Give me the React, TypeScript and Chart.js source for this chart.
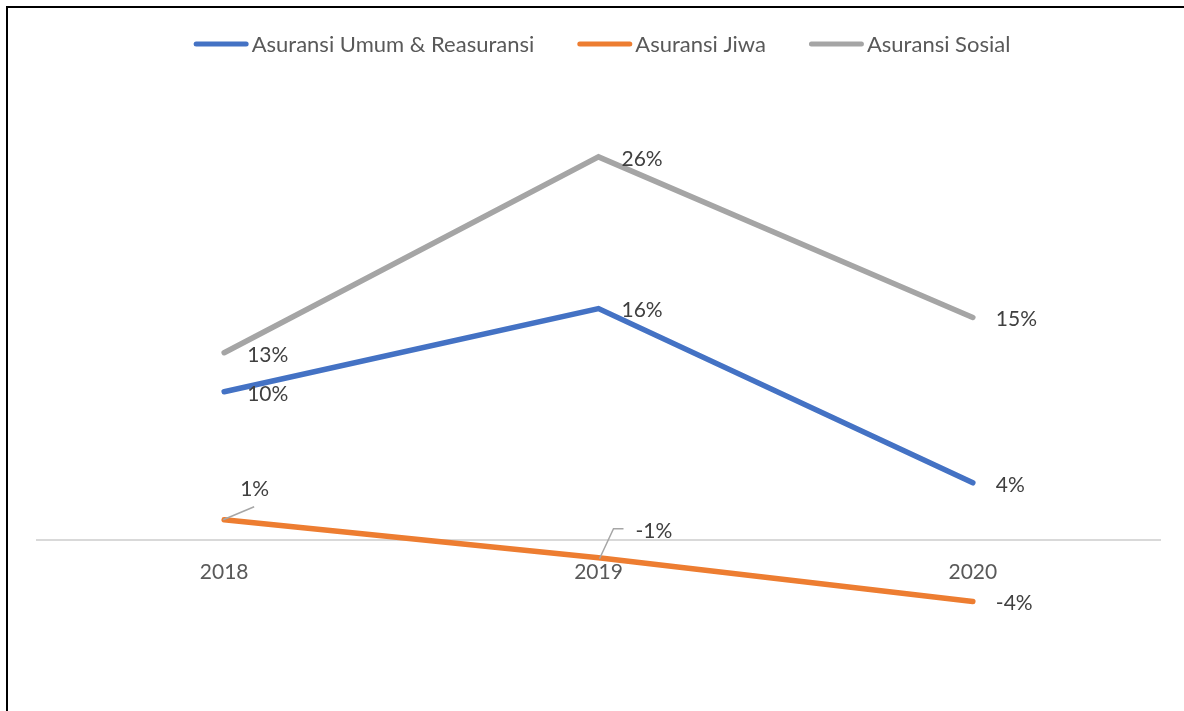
import React, { useEffect, useRef } from "react";
import { Chart, registerables } from "chart.js";

Chart.register(...registerables);

const categories = ["2018", "2019", "2020"];
const umumValues = [0.1005, 0.157, 0.0387];
const jiwaValues = [0.0136, -0.0122, -0.042];
const sosialValues = [0.127, 0.26, 0.151];
const seriesNames = ["Asuransi Umum & Reasuransi", "Asuransi Jiwa", "Asuransi Sosial"];
const seriesColors = ["#4472C4", "#ED7D31", "#A5A5A5"];

const FONT_FAMILY = "Lato, 'Open Sans', sans-serif";
const FONT_SIZE = 21;
const LEGEND_FONT_SIZE = 22;
const TEXT_COLOR = "#595959";

type Placement = { dx: number; dy: number; leader?: number[][] };
const defaultPlacement: Placement = { dx: 23, dy: 2 };
// special label placements (dataset index -> point index)
const specialPlacements: Record<number, Record<number, Placement>> = {
  1: {
    0: { dx: 16, dy: -30, leader: [[-1, 0], [30, -13]] },
    1: { dx: 37, dy: -26, leader: [[1, 1], [15, -29], [25, -29]] },
  },
};

const frameAndLegend = {
  id: "frameAndLegend",
  afterDraw(chart: any) {
    const ctx = chart.ctx as CanvasRenderingContext2D;
    ctx.save();
    // outer frame (top & left visible)
    ctx.fillStyle = "#000";
    ctx.fillRect(6, 6, chart.width - 6, 2);
    ctx.fillRect(6, 6, 2, chart.height - 6);

    // legend
    ctx.font = `${LEGEND_FONT_SIZE}px ${FONT_FAMILY}`;
    const markerW = 55;
    const gap = 3;
    const itemGap = 43;
    const widths = seriesNames.map((n) => ctx.measureText(n).width);
    const total = widths.reduce((a, w) => a + markerW + gap + w, 0) + itemGap * (seriesNames.length - 1);
    let x = 602 - total / 2;
    const y = 44;
    seriesNames.forEach((name, i) => {
      ctx.strokeStyle = seriesColors[i];
      ctx.lineWidth = 5;
      ctx.lineCap = "round";
      ctx.beginPath();
      ctx.moveTo(x + 2.5, y);
      ctx.lineTo(x + markerW - 2.5, y);
      ctx.stroke();
      ctx.fillStyle = TEXT_COLOR;
      ctx.textBaseline = "middle";
      ctx.textAlign = "left";
      ctx.fillText(name, x + markerW + gap, y + 1);
      x += markerW + gap + widths[i] + itemGap;
    });

    // data labels
    ctx.font = `${FONT_SIZE}px ${FONT_FAMILY}`;
    chart.data.datasets.forEach((ds: any, di: number) => {
      const meta = chart.getDatasetMeta(di);
      meta.data.forEach((pt: any, pi: number) => {
        const v = ds.data[pi] as number;
        const txt = `${Math.round(v * 100)}%`;
        const pl = (specialPlacements[di] && specialPlacements[di][pi]) || defaultPlacement;
        if (pl.leader) {
          ctx.strokeStyle = "#A6A6A6";
          ctx.lineWidth = 1.5;
          ctx.lineCap = "butt";
          ctx.beginPath();
          pl.leader.forEach((p, k) => {
            if (k === 0) ctx.moveTo(pt.x + p[0], pt.y + p[1]);
            else ctx.lineTo(pt.x + p[0], pt.y + p[1]);
          });
          ctx.stroke();
        }
        ctx.fillStyle = "#404040";
        ctx.textAlign = "left";
        ctx.textBaseline = "middle";
        ctx.fillText(txt, pt.x + pl.dx, pt.y + pl.dy);
      });
    });
    ctx.restore();
  },
};

export default function App() {
  const ref = useRef<HTMLCanvasElement | null>(null);
  useEffect(() => {
    if (!ref.current) return;
    const mk = (label: string, data: number[], color: string) => ({
      label,
      data,
      borderColor: color,
      backgroundColor: color,
      borderWidth: 5.5,
      borderCapStyle: "round" as const,
      borderJoinStyle: "miter" as const,
      pointRadius: 0,
      pointHoverRadius: 0,
      tension: 0,
      fill: false,
    });
    const chart = new Chart(ref.current, {
      type: "line",
      data: {
        labels: categories,
        datasets: [
          mk(seriesNames[0], umumValues, seriesColors[0]),
          mk(seriesNames[1], jiwaValues, seriesColors[1]),
          mk(seriesNames[2], sosialValues, seriesColors[2]),
        ],
      },
      options: {
        responsive: false,
        animation: false,
        devicePixelRatio: 1,
        layout: { padding: { top: 98, bottom: 24, left: 37, right: 24 } },
        plugins: {
          legend: { display: false },
          tooltip: { enabled: false },
          title: { display: false },
        },
        scales: {
          x: {
            position: { y: 0 } as any,
            offset: true,
            grid: { display: false, drawTicks: false },
            border: { display: true, color: "#D9D9D9", width: 2 },
            ticks: {
              color: TEXT_COLOR,
              font: { family: FONT_FAMILY, size: FONT_SIZE },
              padding: 20,
            },
          },
          y: {
            display: false,
            min: -0.1,
            max: 0.3,
          },
        },
      },
      plugins: [frameAndLegend],
    });
    return () => chart.destroy();
  }, []);
  return (
    <div style={{ position: "fixed", left: 0, top: 0, width: 1184, height: 711, background: "#fff" }}>
      <canvas ref={ref} width={1184} height={711} style={{ width: 1184, height: 711 }} />
    </div>
  );
}
